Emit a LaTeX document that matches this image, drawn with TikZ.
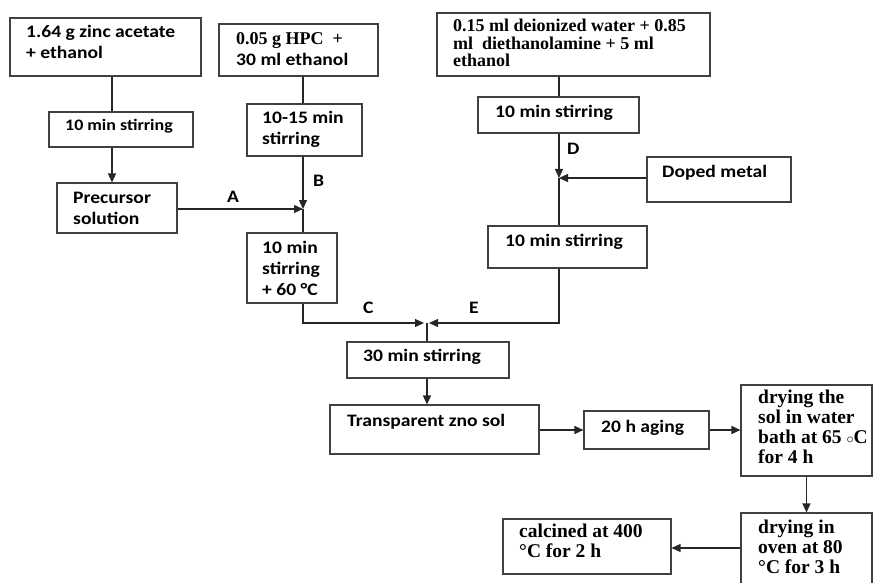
\documentclass[tikz,border=0pt]{standalone}
\usepackage{fontspec}
\usetikzlibrary{arrows.meta}
\newfontfamily\calib{Carlito}[FakeStretch=1.12]
\newfontfamily\tnr{Liberation Serif}
\tikzset{
  procbox/.style={draw=black!75, line width=1.1pt, inner sep=0pt},
  lbl/.style={anchor=base west, inner sep=0pt, align=left, font=\calib\bfseries\fontsize{17.5}{21}\selectfont},
  tlbl/.style={anchor=base west, inner sep=0pt, align=left, font=\tnr\bfseries\fontsize{19.5}{20}\selectfont},
  link/.style={line width=1.3pt, black!85},
  flow/.style={link, -{Triangle[length=9pt,width=8pt]}},
}
\begin{document}
\begin{tikzpicture}[x=1pt,y=-1pt]
        \path[use as bounding box] (0,0) rectangle (873,583);
        \clip (0,0) rectangle (873,583);
        % top row: starting solutions (text nodes sit on their last baseline)
        \node[procbox, minimum width=191, minimum height=58] (zinc) at (105.5,47) {};
        \node[procbox, minimum width=159, minimum height=52] (hpc) at (298.5,50) {};
        \node[procbox, minimum width=273, minimum height=63] (water) at (573.5,44.5) {};
        \node[lbl] (tzinc) at (26,59) {1.64 g zinc acetate\\+ ethanol};
        \node[lbl] (thpc) at (236,66) {{\tnr\fontsize{18}{21}\selectfont 0.05 g HPC~ +}\\30 ml ethanol};
        \node[tlbl, font=\tnr\bfseries\fontsize{18}{17.5}\selectfont] (twater) at (453,67)
            {0.15 ml deionized water + 0.85\\ml~ diethanolamine + 5 ml\\ethanol};
        % stirring steps
        \node[procbox, minimum width=144, minimum height=35] (stirA) at (121,129.5) {};
        \node[procbox, minimum width=120, minimum height=50] (pre) at (117,208) {};
        \node[procbox, minimum width=115, minimum height=52] (stirB) at (304.5,130) {};
        \node[procbox, minimum width=90, minimum height=70] (stirC) at (292,268) {};
        \node[procbox, minimum width=161, minimum height=36] (stirD) at (558.5,115) {};
        \node[procbox, minimum width=144, minimum height=45] (doped) at (719,179.5) {};
        \node[procbox, minimum width=159, minimum height=42] (stirE) at (567.5,247) {};
        \node[procbox, minimum width=162, minimum height=36] (stirF) at (428,360) {};
        \node[lbl, font=\calib\bfseries\fontsize{16}{21}\selectfont] (tstirA) at (65,131) {10 min stirring};
        \node[lbl] (tpre) at (73,224) {Precursor\\solution};
        \node[lbl] (tstirB) at (262,145) {10-15 min\\stirring};
        \node[lbl] (tstirC) at (262,295) {10 min\\stirring\\+ 60 °C};
        \node[lbl] (tstirD) at (495,118) {10 min stirring};
        \node[lbl] (tdoped) at (662,178) {Doped metal};
        \node[lbl] (tstirE) at (505,246) {10 min stirring};
        \node[lbl] (tstirF) at (363,361) {30 min stirring};
        % sol, aging and drying
        \node[procbox, minimum width=209, minimum height=49] (zno) at (434.5,429.5) {};
        \node[procbox, minimum width=125, minimum height=38] (aging) at (646.5,430) {};
        \node[procbox, minimum width=131, minimum height=91] (bath) at (806.5,430.5) {};
        \node[procbox, minimum width=131, minimum height=87] (oven) at (806.5,556.5) {};
        \node[procbox, minimum width=168, minimum height=55] (calc) at (587,546.5) {};
        \node[lbl] (tzno) at (347,426) {Transparent zno sol};
        \node[lbl] (taging) at (601,432) {20 h aging};
        \node[tlbl] (tbath) at (758,463) {drying the\\sol in water\\bath at 65 $\scriptstyle\circ$C\\for 4 h};
        \node[tlbl] (toven) at (758,573) {drying in\\oven at 80\\°C for 3 h};
        \node[tlbl] (tcalc) at (519,557) {calcined at 400\\°C for 2 h};
        % junctions
        \coordinate (colA) at (112,0);
        \coordinate (jA) at (303,209);
        \coordinate (jD) at (559,178);
        \coordinate (jC) at (427,323);
        % left branch
        \draw[link] (zinc.south -| colA) -- (stirA.north -| colA);
        \draw[flow] (stirA.south -| colA) -- (pre.north -| colA);
        \draw[flow] (pre.east |- jA) -- (jA);
        \node[lbl] (labA) at (227,202) {A};
        % HPC branch
        \draw[link] (hpc.south -| jA) -- (stirB.north -| jA);
        \draw[flow] (stirB.south -| jA) -- (jA);
        \node[lbl] (labB) at (313,186) {B};
        \draw[link] (jA) -- (stirC.north -| jA);
        \draw[flow, shorten >=3] (stirC.south -| jA) -- (jA |- jC) -- (jC);
        \node[lbl] (labC) at (363,313) {C};
        % water branch
        \draw[link] (water.south -| jD) -- (stirD.north -| jD);
        \draw[flow] (stirD.south -| jD) -- (jD);
        \node[lbl] (labD) at (567,155) {D};
        \draw[flow] (doped.west |- jD) -- (jD);
        \draw[link] (jD) -- (stirE.north -| jD);
        \draw[flow, shorten >=2] (stirE.south -| jD) -- (jD |- jC) -- (jC);
        \node[lbl] (labE) at (469,313) {E};
        % mixing and after
        \draw[link] (jC) -- (stirF.north -| jC);
        \draw[flow] (stirF.south -| jC) -- (zno.north -| jC);
        \draw[flow] (zno.east |- aging.west) -- (aging.west);
        \draw[flow] (aging.east) -- (bath.west |- aging.east);
        \draw[flow] (bath.south) -- (oven.north);
        \draw[flow] (oven.west |- 0,548) -- (calc.east |- 0,548);
\end{tikzpicture}
\end{document}
